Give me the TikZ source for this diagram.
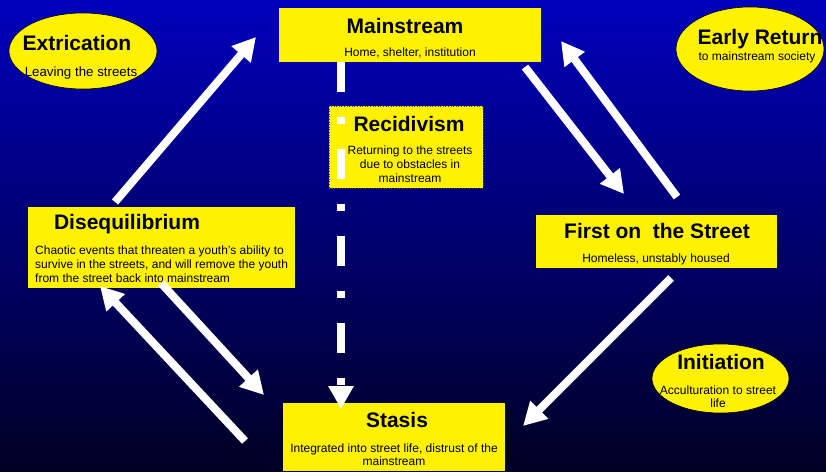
\documentclass[tikz,border=0pt]{standalone}
\usepackage{fontspec}
\setmainfont{Liberation Sans}
\usetikzlibrary{arrows.meta,shapes.geometric}

\begin{document}
\begin{tikzpicture}[x=1pt,y=-1pt,
  box/.style={fill=yellow, inner sep=0pt},
  oval/.style={ellipse, fill=yellow, draw=black, line width=0.6pt, inner sep=0pt},
  ttl/.style={font=\fontsize{21}{24}\selectfont\bfseries, inner sep=0pt, anchor=base},
  txt/.style={font=\fontsize{12}{14}\selectfont, inner sep=0pt, anchor=base, align=center},
  flow/.style={draw=white, line width=8pt, -{Triangle[length=23pt,width=24pt]}}]

  % Draw the background
  \shade[top color={rgb,255:red,0;green,0;blue,188}, bottom color={rgb,255:red,0;green,0;blue,35}] (0,0) rectangle (826,471);
  \useasboundingbox (0,0) rectangle (826,471);

  % Draw the stage boxes
  \node[box, minimum width=262, minimum height=54] (main) at (410,35) {};
  \node[box, minimum width=154, minimum height=82, draw=black!70, dotted, line width=0.6pt] (recid) at (406,147) {};
  \node[box, minimum width=241, minimum height=53] (first) at (656.5,241.5) {};
  \node[box, minimum width=267, minimum height=81] (diseq) at (161.5,247.5) {};
  \node[box, minimum width=222, minimum height=68] (stasis) at (394,437) {};

  % Draw the ovals
  \node[oval, minimum width=148, minimum height=76] (extric) at (83,51) {};
  \node[oval, minimum width=148, minimum height=84] (early) at (750,49) {};
  \node[oval, minimum width=137, minimum height=69] (init) at (720.5,378.5) {};

  % Fill in the titles and descriptions (multi-line texts sit on their last line)
  \node[ttl] (mainT) at (405,33) {Mainstream};
  \node[txt] (mainS) at (410,56) {Home, shelter, institution};

  \node[ttl] (recidT) at (409,131) {Recidivism};
  \node[txt] (recidS) at (410,182) {Returning to the streets\\due to obstacles in\\mainstream};

  \node[ttl] (firstT) at (657,238) {First on\ \ the Street};
  \node[txt] (firstS) at (656,262) {Homeless, unstably housed};

  \node[ttl] (diseqT) at (127,229) {Disequilibrium};
  \node[txt, align=left, anchor=base west] (diseqS) at (35,282) {Chaotic events that threaten a youth’s ability to\\survive in the streets, and will remove the youth\\from the street back into mainstream};

  \node[ttl] (stasisT) at (397,427) {Stasis};
  \node[txt, font=\fontsize{12}{13}\selectfont] (stasisS) at (394,465) {Integrated into street life, distrust of the\\mainstream};

  \node[ttl] (extricT) at (77,50) {Extrication};
  \node[txt, font=\fontsize{13.3}{15}\selectfont] (extricS) at (81,76) {Leaving the streets};

  \node[ttl] (earlyT) at (760,44) {Early Return};
  \node[txt] (earlyS) at (757,60) {to mainstream society};

  \node[ttl] (initT) at (721,369) {Initiation};
  \node[txt, font=\fontsize{12}{13}\selectfont] (initS) at (718,407) {Acculturation to street\\life};

  % Arrow end points
  \coordinate (d1) at (115,202); \coordinate (m1) at (256,37);
  \coordinate (m2) at (525,67);  \coordinate (f1) at (624,194);
  \coordinate (f2) at (677,197); \coordinate (m3) at (561,41);
  \coordinate (f3) at (671,278); \coordinate (s1) at (523,426);
  \coordinate (d2) at (161,283); \coordinate (s2) at (264,395);
  \coordinate (s3) at (245,441); \coordinate (d3) at (100,286);
  \coordinate (r0) at (341,62);  \coordinate (r1) at (341,409);

  % Draw the arrows
  \foreach \a/\b in {d1/m1, m2/f1, f2/m3, f3/s1, d2/s2, s3/d3} {
    \draw[flow] (\a) -- (\b);
  }

  % Dash-dot arrow from mainstream down to stasis
  \draw[flow, dash pattern=on 30pt off 25pt on 7pt off 25pt] (r0) -- (r1);
\end{tikzpicture}
\end{document}
